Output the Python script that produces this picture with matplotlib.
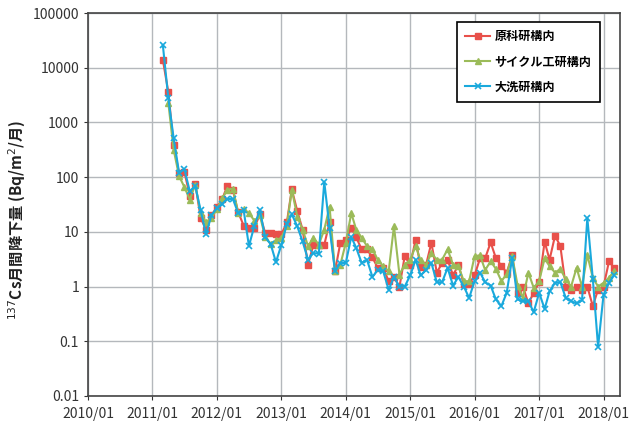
import matplotlib
matplotlib.use('Agg')
import matplotlib.pyplot as plt
import numpy as np
import pandas as pd

plt.rcParams['font.family'] = ['Noto Sans CJK JP', 'DejaVu Sans']

# monthly values, 2011/03 .. 2018/03
months = pd.date_range('2011-03-01', '2018-03-01', freq='MS')

genka = [14000, 3600, 390, 118, 125, 46, 76, 18, 11, 20,
         28, 40, 70, 58, 23, 13, 12, 12, 21, 9.5, 9.5, 9.0,
         9.0, 15, 60, 24, 11, 2.5, 5.8, 5.8, 5.8, 15, 1.9, 6.3,
         7.0, 12, 7.9, 4.8, 4.8, 3.4, 2.2, 2.2, 1.25, 1.5, 0.98, 3.6,
         2.5, 7.2, 2.3, 2.5, 6.3, 1.8, 2.7, 3.1, 1.6, 2.5, 1.1, 1.1,
         1.6, 3.3, 3.3, 6.4, 3.3, 2.4, 1.8, 3.7, 0.77, 1.0, 0.49, 0.77,
         1.2, 6.6, 3.1, 8.5, 5.5, 1.0, 0.88, 1.0, 0.88, 1.0, 0.44, 0.88,
         1.0, 2.9, 2.2]

cycle = [np.nan, 2300, 320, 105, 66, 39, 73, 22, 15, 18,
         26, 41, 59, 62, 22, 26, 22, 16, 20, 8, 6, 7,
         7.8, 13, 59, 19, 11, 5.5, 7.8, 5.8, 11, 29, 1.9, 2.5,
         6.3, 22, 11, 7.8, 5.5, 4.8, 3.1, 2.35, 1.9, 12.7, 1.66, 2.5,
         3.1, 5.5, 3.0, 2.5, 4.1, 3.1, 3.1, 4.8, 2.5, 2.4, 1.25, 1.25,
         3.6, 3.7, 2.0, 2.9, 2.1, 1.25, 1.7, 3.6, 1.04, 0.62, 1.8, 0.95,
         1.25, 3.3, 2.35, 1.8, 2.1, 1.35, 1.0, 2.2, 1.0, 3.8, 1.45, 1.0,
         1.17, 1.45, 1.9]

oarai = [26000, 2800, 520, 120, 140, 55, 68, 25, 9, 20,
         27, 32, 40, 40, 22, 25, 5.5, 13, 25, 8, 6, 2.8,
         5.8, 14, 21, 12.6, 6.7, 3.1, 4.1, 4.0, 82, 11.8, 1.9, 2.7,
         2.7, 8.1, 5.1, 2.7, 3.1, 1.5, 2.0, 1.9, 0.88, 1.5, 1.0, 1.0,
         1.6, 3.1, 1.6, 2.0, 2.7, 1.2, 1.2, 2.2, 1.04, 1.5, 1.0, 0.62,
         1.25, 1.8, 1.2, 1.04, 0.58, 0.44, 0.77, 3.3, 0.58, 0.54, 0.54, 0.34,
         0.77, 0.39, 0.82, 1.17, 1.2, 0.62, 0.54, 0.49, 0.56, 18, 1.4, 0.079,
         0.71, 1.17, 1.6]

labels = ['原科研構内', 'サイクル工研構内', '大洗研構内']
year_ticks = pd.date_range('2010-01-01', '2018-01-01', freq='YS')
year_labels = [d.strftime('%Y/%m') for d in year_ticks]
y_ticks = [0.01, 0.1, 1, 10, 100, 1000, 10000, 100000]
y_labels = ['0.01', '0.1', '1', '10', '100', '1000', '10000', '100000']

fig = plt.figure(figsize=(6.38, 4.23), dpi=100)
ax = fig.add_axes([0.138, 0.064, 0.834, 0.905])

ax.plot(months, genka, color='#e8504a', marker='s', markersize=5, lw=1.5,
        label=labels[0])
ax.plot(months, cycle, color='#9bbb59', marker='^', markersize=5, lw=1.5,
        label=labels[1])
ax.plot(months, oarai, color='#1aa9dc', marker='x', markersize=5, mew=1.2,
        lw=1.5, label=labels[2])

ax.set_yscale('log')
ax.set_ylim(0.01, 100000)
ax.set_xlim(pd.Timestamp('2010-01-01'), pd.Timestamp('2018-04-05'))
ax.set_yticks(y_ticks)
ax.set_yticklabels(y_labels)
ax.minorticks_off()
ax.set_xticks(year_ticks)
ax.set_xticklabels(year_labels)
ax.tick_params(labelsize=10, colors='#333333', length=3)
ax.tick_params(axis='x', pad=5)

ax.grid(True, color='#b4b8bc', lw=1)
ax.set_axisbelow(True)
for s in ax.spines.values():
    s.set_color('#444444')
    s.set_linewidth(1.2)

ax.set_ylabel('$^{137}$Cs月間降下量 (Bq/m$^2$/月)', fontsize=11,
              fontweight='bold', color='#222222')
ax.yaxis.set_label_coords(-0.113, 0.46)

leg = ax.legend(loc='upper right', bbox_to_anchor=(0.962, 0.977),
                fancybox=False, edgecolor='black', framealpha=1,
                fontsize=8.7, labelspacing=1.0, handlelength=2.0,
                handletextpad=0.4, borderpad=0.7, borderaxespad=0)
leg.get_frame().set_linewidth(1.2)
for t in leg.get_texts():
    t.set_fontweight('bold')

plt.savefig('out.png', dpi=100)
